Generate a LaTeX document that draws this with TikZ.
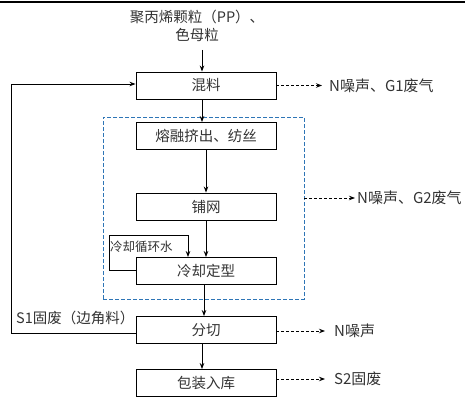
\documentclass[tikz,border=0pt]{standalone}
\usepackage{fontspec}
\newfontfamily\cjk{Noto Sans CJK SC}
\usetikzlibrary{arrows.meta}
\definecolor{boxblue}{RGB}{46,117,182}
\tikzset{
  procbox/.style={draw=black, line width=0.9pt, minimum width=140pt, minimum height=27pt, inner sep=0pt, font=\cjk\fontsize{14.5}{16}\selectfont, text=black!80},
  lbl/.style={font=\cjk\fontsize{14.5}{18}\selectfont, text=black!80, inner sep=0pt},
  emlbl/.style={font=\cjk\fontsize{15}{18}\selectfont, text=black!80, inner sep=0pt},
  smalllbl/.style={font=\cjk\fontsize{12.5}{13}\selectfont, text=black!80, inner sep=0pt},
  arr/.style={line width=0.9pt, -{Stealth[length=6pt,width=4.5pt]}},
  darr/.style={line width=0.9pt, dash pattern=on 3pt off 2pt, -{Stealth[length=6pt,width=4.5pt]}},
  bluebox/.style={draw=boxblue, line width=0.9pt, dash pattern=on 4pt off 2pt},
}
\begin{document}
\begin{tikzpicture}[x=1pt,y=-1pt]
\useasboundingbox (0,0) rectangle (465,398);
\draw[line width=1.5pt] (0,2) -- (465,2);
% input
\node[lbl, align=center] (in) at (197,26) {聚丙烯颗粒（PP）、\\色母粒};
% boxes
\node[procbox] (mix) at (206,85.5) {混料};
\node[procbox] (melt) at (206,136) {熔融挤出、纺丝};
\node[procbox] (web) at (206,206.5) {铺网};
\node[procbox] (cool) at (206,271) {冷却定型};
\node[procbox] (cut) at (206,330) {分切};
\node[procbox] (pack) at (206,383) {包装入库};
% dashed blue region
\node[bluebox, minimum width=201pt, minimum height=182pt, inner sep=0pt] (region) at (203.5,208) {};
% main flow
\draw[arr] (202,50) -- (mix.north -| 202,0);
\draw[arr] (mix.south -| 202,0) -- (melt.north -| 202,0);
\draw[arr] (melt.south) -- (web.north);
\draw[arr] (web.south) -- (cool.north);
\draw[arr] (cool.south -| 204,0) -- (cut.north -| 204,0);
\draw[arr] (cut.south -| 202,0) -- (pack.north -| 202,0);
% cooling water loop
\coordinate (cwA) at (109,270);
\coordinate (cwB) at (109,235);
\coordinate (cwC) at (188,235);
\draw[line width=0.9pt] (cool.west |- cwA) -- (cwA) -- (cwB) -- (cwC);
\draw[arr] (cwC) -- (cool.north -| cwC);
\node[smalllbl, anchor=west] (cwl) at (110,247) {冷却循环水};
% S1 loop
\coordinate (s1a) at (11,333);
\coordinate (s1b) at (11,84);
\draw[line width=0.9pt] (cut.west |- s1a) -- (s1a) -- (s1b);
\draw[arr] (s1b) -- (mix.west |- s1b);
\node[lbl, anchor=west] (s1) at (16,318) {S1固废（边角料）};
% emissions
\coordinate (e1) at (322,85.5);
\draw[darr] (mix.east) -- (e1);
\node[emlbl, anchor=west] (t1) at (329,85.5) {N噪声、G1废气};
\coordinate (e2) at (355,198);
\draw[darr] (region.east |- e2) -- (e2);
\node[emlbl, anchor=west] (t2) at (357,198) {N噪声、G2废气};
\coordinate (e3) at (325,331);
\draw[darr] (cut.east |- e3) -- (e3);
\node[emlbl, anchor=west] (t3) at (334,331) {N噪声};
\coordinate (e4) at (325,379);
\draw[darr] (pack.east |- e4) -- (e4);
\node[emlbl, anchor=west] (t4) at (334,379) {S2固废};
\end{tikzpicture}
\end{document}
